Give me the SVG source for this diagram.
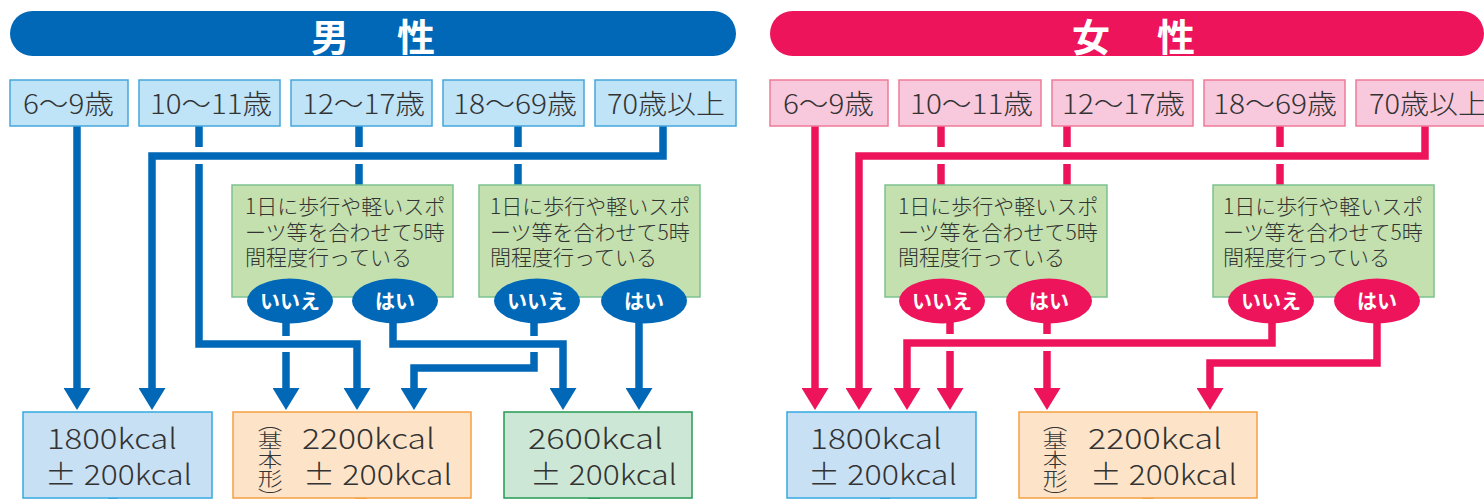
<svg xmlns="http://www.w3.org/2000/svg" width="1484" height="499" viewBox="0 0 1484 499">
<defs>
<style>
.t{font-family:"Noto Sans CJK JP","Noto Sans",sans-serif;font-weight:300;fill:#333}
.age{font-size:27px}
.cond{font-size:21px}
.yn{font-family:"Noto Sans CJK JP",sans-serif;font-size:20px;font-weight:bold;fill:#fff;text-anchor:middle}
.kc{font-size:28px}
.hd{font-family:"Noto Sans CJK JP",sans-serif;font-size:38px;font-weight:bold;fill:#fff;text-anchor:middle}
.vt{font-family:"Noto Sans CJK JP",sans-serif;font-weight:300;font-size:19px;fill:#333;writing-mode:vertical-rl;font-feature-settings:"vpal" 1}
.am{fill:#bfe3f7;stroke:#45a6dc;stroke-width:1.5}
.af{fill:#f8c8dc;stroke:#ee7b98;stroke-width:1.5}
.cb{fill:#c3e0ae;stroke:#7cc291;stroke-width:1.5}
.k18{fill:#c8e0f4;stroke:#35a8e0;stroke-width:1.5}
.k22{fill:#fde4c9;stroke:#f5a042;stroke-width:1.5}
.k26{fill:#cde7d6;stroke:#249b53;stroke-width:1.5}
.cm{fill:none;stroke:#0068b7;stroke-width:7.5;stroke-linejoin:miter}
.cf{fill:none;stroke:#ed145b;stroke-width:7.5;stroke-linejoin:miter}
.arm{marker-end:url(#ahm)}
.arf{marker-end:url(#ahf)}
</style>
<marker id="ahm" markerUnits="userSpaceOnUse" viewBox="0 0 22 27" markerWidth="22" markerHeight="27" refX="0" refY="13.5" orient="auto"><path d="M0,0 L22,13.5 L0,27 Z" fill="#0068b7"/></marker>
<marker id="ahf" markerUnits="userSpaceOnUse" viewBox="0 0 22 27" markerWidth="22" markerHeight="27" refX="0" refY="13.5" orient="auto"><path d="M0,0 L22,13.5 L0,27 Z" fill="#ed145b"/></marker>
</defs>
<rect width="1484" height="499" fill="#fff"/>

<!-- headers -->
<g id="header-male"><rect x="10" y="11" width="726" height="45" rx="22.5" fill="#0068b7"/><text class="hd" x="330" y="51">男</text><text class="hd" x="416" y="51">性</text></g>
<g id="header-female"><rect x="770" y="11" width="714" height="45" rx="22.5" fill="#ed145b"/><text class="hd" x="1091" y="51">女</text><text class="hd" x="1176" y="51">性</text></g>

<!-- connectors -->
<g id="connectors">
<path class="cm arm" d="M77,126 V388"/>
<path class="cm arm" d="M663,126 V156 H152 V388"/>
<path class="cm" d="M199,126 V147"/>
<path class="cm arm" d="M199,164 V344 H357 V388"/>
<path class="cm" d="M359,126 V147 M359,164 V185"/>
<path class="cm" d="M518,126 V147 M518,164 V185"/>
<path class="cm" d="M286,322 V336"/>
<path class="cm arm" d="M286,352 V388"/>
<path class="cm arm" d="M393,322 V344 H563 V388"/>
<path class="cm" d="M534,322 V336"/>
<path class="cm arm" d="M534,352 V368 H414 V388"/>
<path class="cm arm" d="M639,322 V388"/>

<path class="cf arf" d="M815,126 V388"/>
<path class="cf arf" d="M1425,126 V156 H859 V388"/>
<path class="cf" d="M941,126 V147 M941,164 V185"/>
<path class="cf" d="M1067,126 V147 M1067,164 V185"/>
<path class="cf" d="M1280,126 V147 M1280,164 V185"/>
<path class="cf" d="M950,322 V334"/>
<path class="cf arf" d="M950,351 V388"/>
<path class="cf" d="M1047,322 V334"/>
<path class="cf arf" d="M1047,351 V388"/>
<path class="cf arf" d="M1272,322 V343 H907 V388"/>
<path class="cf arf" d="M1377,322 V363 H1210 V388"/>

<path d="M113,498 V506" stroke="#35a8e0" stroke-width="10"/>
<path d="M361,498 V506" stroke="#f5a042" stroke-width="12"/>
<path d="M594,498 V506" stroke="#249b53" stroke-width="12"/>
<path d="M885,498 V506" stroke="#35a8e0" stroke-width="10"/>
<path d="M1148,498 V506" stroke="#f5a042" stroke-width="11"/>
</g>

<!-- male age nodes -->
<g id="m-age-6-9"><rect class="am" x="10" y="80" width="118" height="46"/><text class="t age" x="23" y="114" textLength="91" lengthAdjust="spacingAndGlyphs">6〜9歳</text></g>
<g id="m-age-10-11"><rect class="am" x="139" y="80" width="141" height="46"/><text class="t age" x="150" y="114" textLength="122" lengthAdjust="spacingAndGlyphs">10〜11歳</text></g>
<g id="m-age-12-17"><rect class="am" x="291" y="80" width="141" height="46"/><text class="t age" x="302" y="114" textLength="123" lengthAdjust="spacingAndGlyphs">12〜17歳</text></g>
<g id="m-age-18-69"><rect class="am" x="443" y="80" width="141" height="46"/><text class="t age" x="453" y="114" textLength="124" lengthAdjust="spacingAndGlyphs">18〜69歳</text></g>
<g id="m-age-70"><rect class="am" x="595" y="80" width="141" height="46"/><text class="t age" x="607" y="114" textLength="118" lengthAdjust="spacingAndGlyphs">70歳以上</text></g>

<!-- female age nodes -->
<g id="f-age-6-9"><rect class="af" x="770" y="80" width="118" height="46"/><text class="t age" x="783" y="114" textLength="91" lengthAdjust="spacingAndGlyphs">6〜9歳</text></g>
<g id="f-age-10-11"><rect class="af" x="899" y="80" width="142" height="46"/><text class="t age" x="910" y="114" textLength="123" lengthAdjust="spacingAndGlyphs">10〜11歳</text></g>
<g id="f-age-12-17"><rect class="af" x="1052" y="80" width="141" height="46"/><text class="t age" x="1062" y="114" textLength="123" lengthAdjust="spacingAndGlyphs">12〜17歳</text></g>
<g id="f-age-18-69"><rect class="af" x="1204" y="80" width="141" height="46"/><text class="t age" x="1213" y="114" textLength="124" lengthAdjust="spacingAndGlyphs">18〜69歳</text></g>
<g id="f-age-70"><rect class="af" x="1356" y="80" width="141" height="46"/><text class="t age" x="1369" y="114" textLength="118" lengthAdjust="spacingAndGlyphs">70歳以上</text></g>

<!-- condition nodes -->
<g id="m-cond-1"><rect class="cb" x="232" y="185" width="221" height="112"/>
<text class="t cond" x="245" y="214">1日に歩行や軽いスポ</text><text class="t cond" x="245" y="240">ーツ等を合わせて5時</text><text class="t cond" x="245" y="265">間程度行っている</text>
<ellipse cx="290" cy="301" rx="43" ry="22.5" fill="#0068b7"/><text class="yn" x="290" y="309">いいえ</text>
<ellipse cx="395" cy="301" rx="43" ry="22.5" fill="#0068b7"/><text class="yn" x="395" y="309">はい</text></g>
<g id="m-cond-2"><rect class="cb" x="479" y="185" width="221" height="112"/>
<text class="t cond" x="490" y="214">1日に歩行や軽いスポ</text><text class="t cond" x="490" y="240">ーツ等を合わせて5時</text><text class="t cond" x="490" y="265">間程度行っている</text>
<ellipse cx="537" cy="301" rx="43" ry="22.5" fill="#0068b7"/><text class="yn" x="537" y="309">いいえ</text>
<ellipse cx="644" cy="301" rx="43" ry="22.5" fill="#0068b7"/><text class="yn" x="644" y="309">はい</text></g>
<g id="f-cond-1"><rect class="cb" x="885" y="185" width="222" height="112"/>
<text class="t cond" x="898" y="214">1日に歩行や軽いスポ</text><text class="t cond" x="898" y="240">ーツ等を合わせて5時</text><text class="t cond" x="898" y="265">間程度行っている</text>
<ellipse cx="942" cy="301" rx="43" ry="22.5" fill="#ed145b"/><text class="yn" x="942" y="309">いいえ</text>
<ellipse cx="1049" cy="301" rx="43" ry="22.5" fill="#ed145b"/><text class="yn" x="1049" y="309">はい</text></g>
<g id="f-cond-2"><rect class="cb" x="1213" y="185" width="221" height="112"/>
<text class="t cond" x="1223" y="214">1日に歩行や軽いスポ</text><text class="t cond" x="1223" y="240">ーツ等を合わせて5時</text><text class="t cond" x="1223" y="265">間程度行っている</text>
<ellipse cx="1271" cy="301" rx="43" ry="22.5" fill="#ed145b"/><text class="yn" x="1271" y="309">いいえ</text>
<ellipse cx="1377" cy="301" rx="43" ry="22.5" fill="#ed145b"/><text class="yn" x="1377" y="309">はい</text></g>

<!-- result nodes -->
<g id="m-1800"><rect class="k18" x="23" y="412" width="189" height="86"/>
<text class="t kc" x="47" y="449" textLength="130" lengthAdjust="spacingAndGlyphs">1800kcal</text>
<text class="t kc" x="45" y="485" textLength="147" lengthAdjust="spacingAndGlyphs">± 200kcal</text></g>
<g id="m-2200"><rect class="k22" x="233" y="412" width="238" height="86"/>
<text class="vt" transform="translate(270,0) scale(1.3,1)" x="0" y="422">（基本形）</text>
<text class="t kc" x="302" y="449" textLength="133" lengthAdjust="spacingAndGlyphs">2200kcal</text>
<text class="t kc" x="303" y="485" textLength="149" lengthAdjust="spacingAndGlyphs">± 200kcal</text></g>
<g id="m-2600"><rect class="k26" x="504" y="412" width="188" height="86"/>
<text class="t kc" x="528" y="449" textLength="135" lengthAdjust="spacingAndGlyphs">2600kcal</text>
<text class="t kc" x="530" y="485" textLength="147" lengthAdjust="spacingAndGlyphs">± 200kcal</text></g>
<g id="f-1800"><rect class="k18" x="787" y="412" width="189" height="86"/>
<text class="t kc" x="810" y="449" textLength="132" lengthAdjust="spacingAndGlyphs">1800kcal</text>
<text class="t kc" x="808" y="485" textLength="149" lengthAdjust="spacingAndGlyphs">± 200kcal</text></g>
<g id="f-2200"><rect class="k22" x="1019" y="412" width="238" height="86"/>
<text class="vt" transform="translate(1055,0) scale(1.3,1)" x="0" y="422">（基本形）</text>
<text class="t kc" x="1088" y="449" textLength="134" lengthAdjust="spacingAndGlyphs">2200kcal</text>
<text class="t kc" x="1090" y="485" textLength="147" lengthAdjust="spacingAndGlyphs">± 200kcal</text></g>
</svg>
